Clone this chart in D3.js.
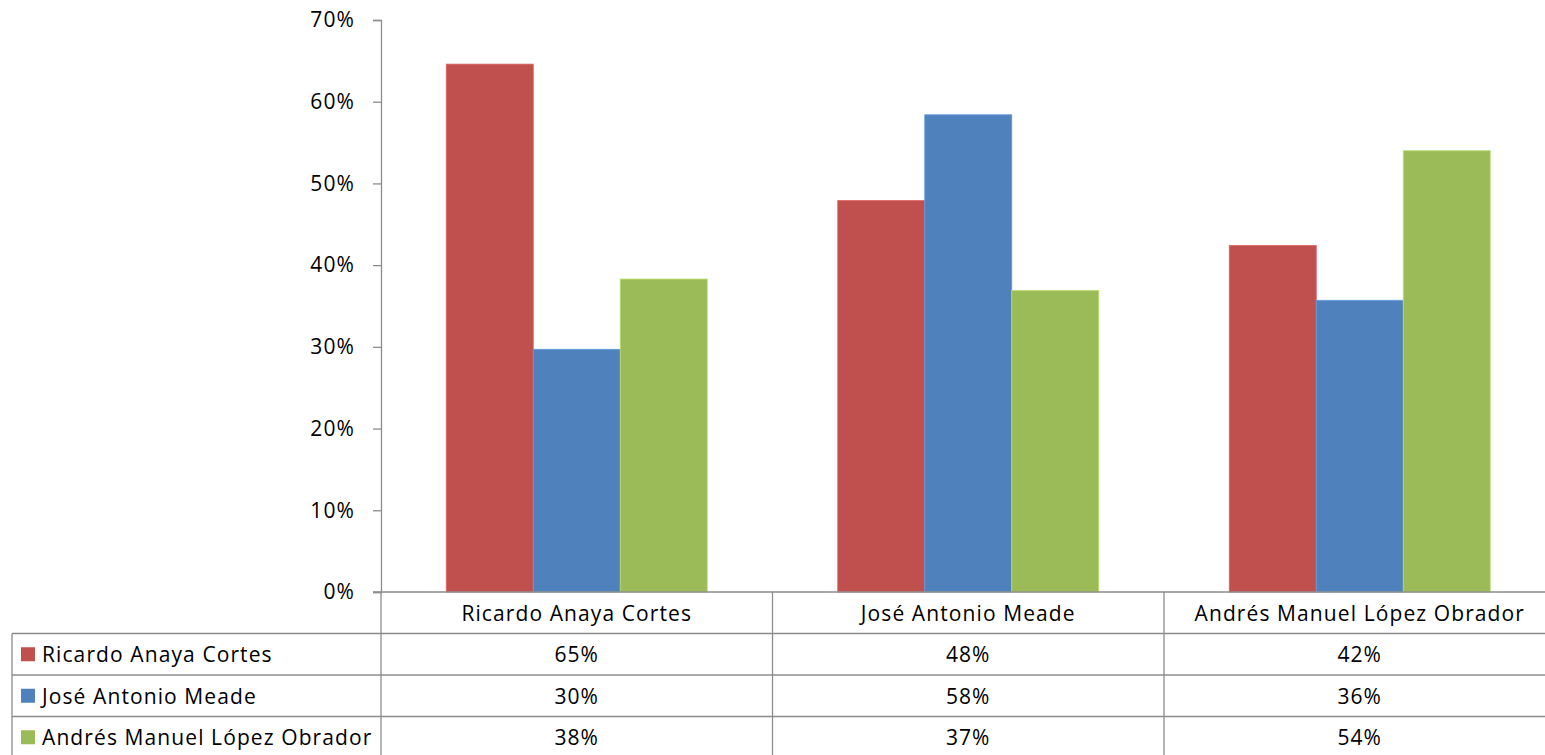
<!DOCTYPE html>
<html>
<head>
<meta charset="utf-8">
<script src="https://cdn.jsdelivr.net/npm/d3@7"></script>
<style>
  html, body { margin: 0; padding: 0; background: #fff; overflow: hidden; }
  svg { display: block; font-family: "Open Sans", Lato, sans-serif; }
</style>
</head>
<body>
<svg id="chart" width="1545" height="755"></svg>
<script>
// ---- data ----
const categories = ["Ricardo Anaya Cortes", "José Antonio Meade", "Andrés Manuel López Obrador"];
const seriesNames = ["Ricardo Anaya Cortes", "José Antonio Meade", "Andrés Manuel López Obrador"];
const seriesRicardo = [0.646, 0.479, 0.424];
const seriesMeade   = [0.297, 0.584, 0.357];
const seriesAmlo    = [0.383, 0.369, 0.540];
const seriesColors  = ["#C0504D", "#4F81BD", "#9BBB59"];
const yTicks = [0, 0.1, 0.2, 0.3, 0.4, 0.5, 0.6, 0.7];

const seriesValues = [seriesRicardo, seriesMeade, seriesAmlo];

// ---- layout ----
const svg = d3.select("#chart");
const plotLeft = 381, plotRight = 1555.5;
const yBottom = 592, yTop = 20;
const rowH = 41.5;
const tableLeft = 12;
const gridColor = "#8c8c8c";
const fontFamily = "'Open Sans', Lato, sans-serif";
const fontSize = 21;
const ls = "1.1px";

const x = d3.scaleBand().domain(categories).range([plotLeft, plotRight]).padding(0);
const xs = d3.scaleBand().domain(seriesNames).range([0, x.bandwidth()]).paddingInner(0).paddingOuter(0.75);
const y = d3.scaleLinear().domain([0, 0.7]).range([yBottom, yTop]);

// bars
seriesNames.forEach((s, si) => {
  svg.append("g").selectAll("rect")
    .data(categories.map((c, ci) => ({c, v: seriesValues[si][ci]})))
    .join("rect")
    .attr("x", d => x(d.c) + xs(s))
    .attr("y", d => y(d.v))
    .attr("width", xs.bandwidth())
    .attr("height", d => yBottom - y(d.v))
    .attr("fill", seriesColors[si])
    .attr("stroke", d3.color(seriesColors[si]).brighter(0.5))
    .attr("stroke-width", 0.8);
});

// y axis
const yAxis = d3.axisLeft(y).tickValues(yTicks).tickFormat(d3.format(".0%")).tickSize(8).tickPadding(18);
const ya = svg.append("g").attr("transform", `translate(${plotLeft},0)`).call(yAxis);
ya.select(".domain").attr("stroke", gridColor).attr("stroke-width", 1.3);
ya.selectAll(".tick line").attr("stroke", gridColor).attr("stroke-width", 1.3);
ya.selectAll(".tick text").attr("font-size", fontSize).attr("fill", "#000").attr("font-family", fontFamily)
  .style("letter-spacing", ls);

// table grid lines
const g = svg.append("g").attr("stroke", gridColor).attr("stroke-width", 1.3).attr("fill", "none");
g.append("line").attr("x1", plotLeft - 8).attr("x2", plotRight).attr("y1", yBottom).attr("y2", yBottom);
for (let i = 1; i <= 3; i++) {
  const yy = yBottom + rowH * i;
  g.append("line").attr("x1", tableLeft).attr("x2", plotRight).attr("y1", yy).attr("y2", yy);
}
g.append("line").attr("x1", plotLeft).attr("x2", plotLeft).attr("y1", yBottom).attr("y2", 760);
g.append("line").attr("x1", tableLeft).attr("x2", tableLeft).attr("y1", yBottom + rowH).attr("y2", 760);
categories.forEach(c => {
  const xx = x(c) + x.bandwidth();
  g.append("line").attr("x1", xx).attr("x2", xx).attr("y1", yBottom).attr("y2", 760);
});

// header labels
svg.append("g").selectAll("text").data(categories).join("text")
  .attr("x", d => x(d) + x.bandwidth() / 2)
  .attr("y", yBottom + rowH / 2)
  .attr("text-anchor", "middle").attr("dominant-baseline", "central")
  .attr("font-size", fontSize).attr("fill", "#000").style("letter-spacing", ls)
  .text(d => d);

// rows
const fmt = d3.format(".0%");
seriesNames.forEach((s, si) => {
  const cy = yBottom + rowH * (si + 1) + rowH / 2;
  svg.append("rect").attr("x", 21).attr("y", cy - 7).attr("width", 14).attr("height", 14).attr("fill", seriesColors[si]);
  svg.append("text").attr("x", 42).attr("y", cy).attr("dominant-baseline", "central")
    .attr("font-size", fontSize).attr("fill", "#000").style("letter-spacing", ls).text(s);
  svg.append("g").selectAll("text").data(categories).join("text")
    .attr("x", d => x(d) + x.bandwidth() / 2)
    .attr("y", cy)
    .attr("text-anchor", "middle").attr("dominant-baseline", "central")
    .attr("font-size", fontSize).attr("fill", "#000").style("letter-spacing", ls)
    .text((d, ci) => fmt(seriesValues[si][ci]));
});
</script>
</body>
</html>
